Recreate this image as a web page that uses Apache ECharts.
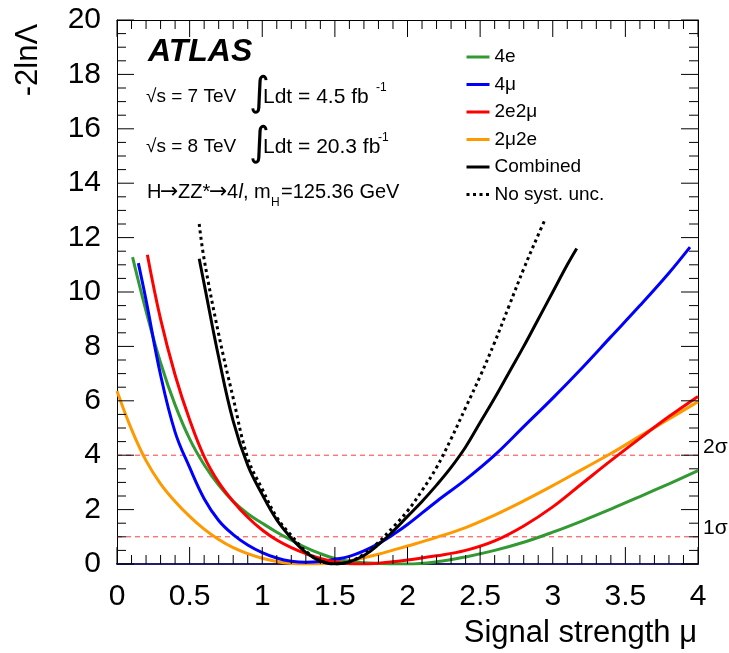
<!DOCTYPE html>
<html>
<head>
<meta charset="utf-8">
<script src="https://cdn.jsdelivr.net/npm/echarts@6/dist/echarts.min.js"></script>
<style>
  html, body { margin: 0; padding: 0; background: #ffffff; overflow: hidden; }
  #chart { width: 729px; height: 653px; }
</style>
</head>
<body>
<div id="chart"></div>
<script>
// Likelihood scans of the signal strength per decay channel

const mu4e = [0.107, 0.2, 0.3, 0.4, 0.5, 0.6, 0.7, 0.8, 0.9, 1.0, 1.1, 1.2, 1.3, 1.4, 1.5, 1.6, 1.7, 1.8, 1.9, 2.0, 2.2, 2.4, 2.6, 2.8, 3.0, 3.2, 3.4, 3.6, 3.8, 4.0];
const nll4e = [11.28, 9.3, 7.4, 5.85, 4.6, 3.65, 2.9, 2.3, 1.85, 1.5, 1.17, 0.88, 0.6, 0.38, 0.2, 0.1, 0.05, 0.02, 0.0, 0.0, 0.08, 0.26, 0.5, 0.8, 1.17, 1.58, 2.02, 2.48, 2.95, 3.43];

const mu4m = [0.147, 0.2, 0.3, 0.4, 0.5, 0.6, 0.7, 0.8, 0.9, 1.0, 1.1, 1.2, 1.3, 1.4, 1.5, 1.6, 1.7, 1.8, 1.9, 2.0, 2.2, 2.4, 2.6, 2.8, 3.0, 3.2, 3.4, 3.6, 3.8, 3.945];
const nll4m = [11.06, 9.7, 6.95, 4.85, 3.55, 2.4, 1.6, 1.08, 0.7, 0.42, 0.22, 0.1, 0.06, 0.09, 0.17, 0.28, 0.48, 0.75, 1.08, 1.45, 2.3, 3.1, 4.0, 5.05, 6.1, 7.2, 8.35, 9.5, 10.7, 11.65];

const mu2e2m = [0.209, 0.3, 0.4, 0.5, 0.6, 0.7, 0.8, 0.9, 1.0, 1.1, 1.2, 1.3, 1.4, 1.5, 1.6, 1.7, 1.8, 1.9, 2.0, 2.2, 2.4, 2.6, 2.8, 3.0, 3.2, 3.4, 3.6, 3.8, 4.0];
const nll2e2m = [11.37, 9.0, 6.95, 5.3, 3.95, 3.0, 2.3, 1.72, 1.25, 0.88, 0.6, 0.38, 0.2, 0.08, 0.01, 0.0, 0.03, 0.08, 0.15, 0.3, 0.5, 0.85, 1.4, 2.1, 2.95, 3.8, 4.62, 5.42, 6.16];

const mu2m2e = [0.0, 0.1, 0.2, 0.3, 0.4, 0.5, 0.6, 0.7, 0.8, 0.9, 1.0, 1.1, 1.2, 1.3, 1.4, 1.5, 1.6, 1.7, 1.8, 1.9, 2.0, 2.2, 2.4, 2.6, 2.8, 3.0, 3.2, 3.4, 3.6, 3.8, 4.0];
const nll2m2e = [6.36, 4.95, 3.8, 2.95, 2.3, 1.75, 1.28, 0.9, 0.6, 0.38, 0.21, 0.09, 0.02, 0.0, 0.01, 0.05, 0.12, 0.23, 0.36, 0.51, 0.66, 0.98, 1.34, 1.8, 2.32, 2.88, 3.47, 4.06, 4.7, 5.33, 5.97];

const muComb = [0.566, 0.6, 0.7, 0.8, 0.9, 1.0, 1.1, 1.2, 1.3, 1.4, 1.5, 1.6, 1.7, 1.8, 1.9, 2.0, 2.1, 2.2, 2.3, 2.4, 2.5, 2.6, 2.7, 2.8, 2.9, 3.0, 3.1, 3.165];
const nllComb = [11.22, 10.3, 7.6, 5.25, 3.63, 2.55, 1.62, 0.95, 0.43, 0.11, 0.0, 0.08, 0.31, 0.71, 1.2, 1.75, 2.3, 2.9, 3.55, 4.3, 5.2, 6.1, 7.05, 8.0, 9.0, 10.0, 11.0, 11.6];

const muStat = [0.566, 0.6, 0.7, 0.8, 0.9, 1.0, 1.1, 1.2, 1.3, 1.4, 1.5, 1.6, 1.7, 1.8, 1.9, 2.0, 2.1, 2.2, 2.3, 2.4, 2.5, 2.6, 2.7, 2.8, 2.9, 2.947];
const nllStat = [12.5, 11.2, 8.45, 6.1, 3.9, 2.75, 1.72, 1.05, 0.47, 0.12, 0.0, 0.09, 0.36, 0.8, 1.35, 1.95, 2.7, 3.55, 4.6, 5.75, 6.9, 8.15, 9.5, 10.85, 12.1, 12.66];

const sigmaLevels = [1, 4];
const sigmaNames = ['1σ', '2σ'];

const legendNames = ['4e', '4μ', '2e2μ', '2μ2e', 'Combined', 'No syst. unc.'];

const xTicks = { min: 0, max: 4, interval: 0.5, minorSplit: 5 };
const yTicks = { min: 0, max: 20, interval: 2, minorSplit: 4 };

const FONT = 'Liberation Sans, Arial, Helvetica, sans-serif';
const PLOT = { left: 117, top: 20, width: 581, height: 544 };
const MAJOR_LEN = 17;
const MINOR_LEN = 9;

function pairs(xs, ys) { return xs.map((x, i) => [x, ys[i]]); }

function curve(name, xs, ys, color, dash) {
  return {
    name: name,
    type: 'line',
    xAxisIndex: 0,
    yAxisIndex: 0,
    data: pairs(xs, ys),
    smooth: 0.4,
    symbol: 'none',
    lineStyle: { color: color, width: 3, type: dash || 'solid' },
    itemStyle: { color: color },
    z: 3
  };
}

// horizontal reference lines at the 1 and 2 sigma levels
function sigmaLine(level) {
  return {
    name: 'level' + level,
    type: 'line',
    xAxisIndex: 0,
    yAxisIndex: 0,
    data: [[xTicks.min, level], [xTicks.max, level]],
    symbol: 'none',
    silent: true,
    lineStyle: { color: '#ff3b3b', width: 1, type: [5, 4] },
    z: 1
  };
}

// inward tick marks along one side of the frame, major every interval, minor in between
function tickMarks(side) {
  const horiz = side === 'bottom' || side === 'top';
  const axis = horiz ? xTicks : yTicks;
  const step = axis.interval / axis.minorSplit;
  const n = Math.round((axis.max - axis.min) / step);
  const items = [];
  for (let i = 0; i <= n; i++) {
    const v = axis.min + i * step;
    const len = i % axis.minorSplit === 0 ? MAJOR_LEN : MINOR_LEN;
    let value, size, offset;
    if (side === 'bottom') { value = [v, yTicks.min]; size = [1, len]; offset = [0, -len / 2]; }
    else if (side === 'top') { value = [v, yTicks.max]; size = [1, len]; offset = [0, len / 2]; }
    else if (side === 'left') { value = [xTicks.min, v]; size = [len, 1]; offset = [len / 2, 0]; }
    else { value = [xTicks.max, v]; size = [len, 1]; offset = [-len / 2, 0]; }
    items.push({ value: value, symbolSize: size, symbolOffset: offset });
  }
  return {
    name: 'ticks-' + side,
    type: 'scatter',
    xAxisIndex: 0,
    yAxisIndex: 0,
    data: items,
    symbol: 'rect',
    clip: false,
    silent: true,
    itemStyle: { color: '#000', opacity: 1 },
    z: 4
  };
}

function frameAxis(pos, range, labels, lineColor, lineWidth) {
  return {
    type: 'value',
    gridIndex: 0,
    position: pos,
    min: range.min,
    max: range.max,
    interval: range.interval,
    axisLine: { show: true, onZero: false, lineStyle: { color: lineColor || '#000', width: lineWidth || 1 } },
    axisTick: { show: false },
    minorTick: { show: false },
    splitLine: { show: false },
    axisLabel: labels
  };
}

const chart = echarts.init(document.getElementById('chart'));

chart.setOption({
  animation: false,
  backgroundColor: '#ffffff',
  grid: [PLOT],
  xAxis: [
    frameAxis('bottom', xTicks, { show: true, margin: 18, color: '#000', fontFamily: FONT, fontSize: 30 }, '#20206e', 2),
    frameAxis('top', xTicks, { show: false })
  ],
  yAxis: [
    frameAxis('left', yTicks, { show: true, margin: 16, color: '#000', fontFamily: FONT, fontSize: 30 }),
    frameAxis('right', yTicks, { show: false })
  ],
  legend: {
    orient: 'vertical',
    left: 460,
    top: 42,
    itemWidth: 23,
    itemHeight: 14,
    itemGap: 7.5,
    data: legendNames,
    itemStyle: { opacity: 0 },
    lineStyle: { width: 3 },
    textStyle: { fontFamily: FONT, fontSize: 19, color: '#000', lineHeight: 20 },
    selectedMode: false
  },
  series: [
    sigmaLine(sigmaLevels[0]),
    sigmaLine(sigmaLevels[1]),
    curve(legendNames[3], mu2m2e, nll2m2e, '#ff9900'),
    curve(legendNames[0], mu4e, nll4e, '#339933'),
    curve(legendNames[1], mu4m, nll4m, '#0000ff'),
    curve(legendNames[2], mu2e2m, nll2e2m, '#ff0000'),
    curve(legendNames[5], muStat, nllStat, '#000000', [3, 3.5]),
    curve(legendNames[4], muComb, nllComb, '#000000'),
    tickMarks('bottom'),
    tickMarks('top'),
    tickMarks('left'),
    tickMarks('right')
  ],
  graphic: [
    { type: 'text', left: 148, top: 36, style: { text: 'ATLAS', font: 'italic bold 32px ' + FONT, fill: '#000' } },

    { type: 'text', x: 146, y: 97, style: { text: '√s = 7 TeV', font: '19px ' + FONT, fill: '#000', textVerticalAlign: 'middle' } },
    { type: 'text', x: 249, y: 95, style: { text: '∫', font: '40px DejaVu Sans', fill: '#000', textVerticalAlign: 'middle' } },
    { type: 'text', x: 263, y: 97, style: { text: 'Ldt = 4.5 fb', font: '21px ' + FONT, fill: '#000', textVerticalAlign: 'middle' } },
    { type: 'text', x: 376, y: 88, style: { text: '-1', font: '12px ' + FONT, fill: '#000', textVerticalAlign: 'middle' } },

    { type: 'text', x: 146, y: 147, style: { text: '√s = 8 TeV', font: '19px ' + FONT, fill: '#000', textVerticalAlign: 'middle' } },
    { type: 'text', x: 249, y: 145, style: { text: '∫', font: '40px DejaVu Sans', fill: '#000', textVerticalAlign: 'middle' } },
    { type: 'text', x: 263, y: 147, style: { text: 'Ldt = 20.3 fb', font: '21px ' + FONT, fill: '#000', textVerticalAlign: 'middle' } },
    { type: 'text', x: 378, y: 138, style: { text: '-1', font: '12px ' + FONT, fill: '#000', textVerticalAlign: 'middle' } },

    { type: 'text', x: 147, y: 192, style: { text: 'H', font: '20px ' + FONT, fill: '#000', textVerticalAlign: 'middle' } },
    { type: 'text', x: 160, y: 192, style: { text: '→', font: '22px DejaVu Sans', fill: '#000', textVerticalAlign: 'middle' } },
    { type: 'text', x: 178, y: 192, style: { text: 'ZZ*', font: '20px ' + FONT, fill: '#000', textVerticalAlign: 'middle' } },
    { type: 'text', x: 209, y: 192, style: { text: '→', font: '22px DejaVu Sans', fill: '#000', textVerticalAlign: 'middle' } },
    { type: 'text', x: 227, y: 192, style: { text: '4', font: '20px ' + FONT, fill: '#000', textVerticalAlign: 'middle' } },
    { type: 'text', x: 238.5, y: 192, style: { text: 'l', font: 'italic 20px ' + FONT, fill: '#000', textVerticalAlign: 'middle' } },
    { type: 'text', x: 243, y: 192, style: { text: ', m', font: '20px ' + FONT, fill: '#000', textVerticalAlign: 'middle' } },
    { type: 'text', x: 271, y: 203, style: { text: 'H', font: '12px ' + FONT, fill: '#000', textVerticalAlign: 'middle' } },
    { type: 'text', x: 281, y: 192, style: { text: '=125.36 GeV', font: '20px ' + FONT, fill: '#000', textVerticalAlign: 'middle' } },

    { type: 'text', x: 703, y: 447, style: { text: sigmaNames[1], font: '21px ' + FONT, fill: '#000', textVerticalAlign: 'middle' } },
    { type: 'text', x: 703, y: 528, style: { text: sigmaNames[0], font: '21px ' + FONT, fill: '#000', textVerticalAlign: 'middle' } },

    { type: 'text', x: 697, y: 633, style: { text: 'Signal strength μ', font: '31px ' + FONT, fill: '#000', textAlign: 'right', textVerticalAlign: 'middle' } },
    { type: 'text', x: 28, y: 60, rotation: Math.PI / 2, style: { text: '-2lnΛ', font: '31px ' + FONT, fill: '#000', textAlign: 'center', textVerticalAlign: 'middle' } }
  ]
});
</script>
</body>
</html>
